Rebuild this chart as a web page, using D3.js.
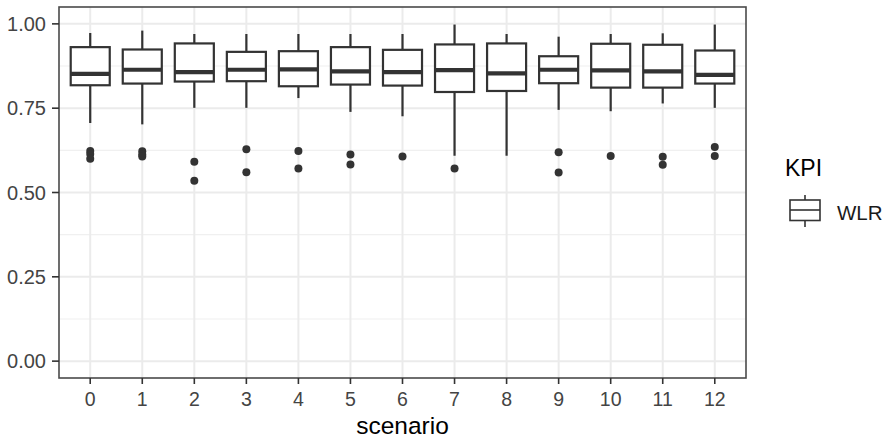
<!DOCTYPE html>
<html>
<head>
<meta charset="utf-8">
<script src="https://cdn.jsdelivr.net/npm/d3@7"></script>
<style>
  body { margin: 0; background: #fff; }
  svg { font-family: "Liberation Sans", Arial, sans-serif; }
</style>
</head>
<body>
<svg id="chart" width="890" height="440"></svg>
<script>
// values
scenarios = ["0","1","2","3","4","5","6","7","8","9","10","11","12"];
whiskerHigh = [0.973, 0.980, 0.970, 0.970, 0.970, 0.970, 0.970, 0.998, 0.970, 0.962, 0.970, 0.972, 0.998];
q3          = [0.931, 0.924, 0.942, 0.917, 0.919, 0.931, 0.923, 0.939, 0.942, 0.904, 0.941, 0.938, 0.921];
medians     = [0.852, 0.864, 0.857, 0.864, 0.865, 0.859, 0.857, 0.863, 0.853, 0.864, 0.862, 0.859, 0.849];
q1          = [0.818, 0.823, 0.829, 0.830, 0.815, 0.820, 0.817, 0.798, 0.801, 0.824, 0.811, 0.811, 0.823];
whiskerLow  = [0.706, 0.702, 0.751, 0.751, 0.780, 0.739, 0.726, 0.609, 0.609, 0.745, 0.741, 0.764, 0.751];
outliers = [
    [0.623, 0.614, 0.600],
    [0.622, 0.613, 0.607],
    [0.591, 0.535],
    [0.628, 0.560],
    [0.623, 0.571],
    [0.613, 0.583],
    [0.607],
    [0.571],
    [],
    [0.619, 0.559],
    [0.608],
    [0.606, 0.582],
    [0.635, 0.608]
];
yTicks = [0, 0.25, 0.5, 0.75, 1];

svg = d3.select("#chart");
panel = {left: 59, right: 746, top: 7, bottom: 378};

// ggplot discrete expansion: 0.6 units each side
x = d3.scalePoint()
        .domain(scenarios)
        .range([panel.left, panel.right])
        .padding(0.6);
xc = d => x(d);
boxW = x.step() * 0.75;

y = d3.scaleLinear()
        .domain([-0.05, 1.05])
        .range([panel.bottom, panel.top]);

grid = svg.append("g");
minorTicks = d3.range(0.125, 1.05, 0.25);
grid.selectAll(".minor")
    .data(minorTicks)
    .join("line")
    .attr("x1", panel.left).attr("x2", panel.right)
    .attr("y1", d => y(d)).attr("y2", d => y(d))
    .attr("stroke", "#f0f0f0")
    .attr("stroke-width", 1.2);
grid.selectAll(".major")
    .data(yTicks)
    .join("line")
    .attr("x1", panel.left).attr("x2", panel.right)
    .attr("y1", d => y(d)).attr("y2", d => y(d))
    .attr("stroke", "#ebebeb")
    .attr("stroke-width", 2);
grid.selectAll(".vmajor")
    .data(scenarios)
    .join("line")
    .attr("x1", d => xc(d)).attr("x2", d => xc(d))
    .attr("y1", panel.top).attr("y2", panel.bottom)
    .attr("stroke", "#ebebeb")
    .attr("stroke-width", 2);

ink = "#333333";
boxes = svg.append("g").selectAll("g")
    .data(scenarios)
    .join("g");

boxes.append("line")
    .attr("x1", d => xc(d)).attr("x2", d => xc(d))
    .attr("y1", (d, i) => y(whiskerHigh[i])).attr("y2", (d, i) => y(q3[i]))
    .attr("stroke", ink).attr("stroke-width", 2.2);
boxes.append("line")
    .attr("x1", d => xc(d)).attr("x2", d => xc(d))
    .attr("y1", (d, i) => y(q1[i])).attr("y2", (d, i) => y(whiskerLow[i]))
    .attr("stroke", ink).attr("stroke-width", 2.2);
boxes.append("rect")
    .attr("x", d => xc(d) - boxW / 2)
    .attr("width", boxW)
    .attr("y", (d, i) => y(q3[i]))
    .attr("height", (d, i) => y(q1[i]) - y(q3[i]))
    .attr("fill", "#fff")
    .attr("stroke", ink).attr("stroke-width", 2.2);
boxes.append("line")
    .attr("x1", d => xc(d) - boxW / 2).attr("x2", d => xc(d) + boxW / 2)
    .attr("y1", (d, i) => y(medians[i])).attr("y2", (d, i) => y(medians[i]))
    .attr("stroke", ink).attr("stroke-width", 4.2);
boxes.selectAll("circle")
    .data((d, i) => outliers[i].map(v => ({s: d, v: v})))
    .join("circle")
    .attr("cx", d => xc(d.s))
    .attr("cy", d => y(d.v))
    .attr("r", 4)
    .attr("fill", ink);

// panel border
svg.append("rect")
    .attr("x", panel.left).attr("y", panel.top)
    .attr("width", panel.right - panel.left)
    .attr("height", panel.bottom - panel.top)
    .attr("fill", "none")
    .attr("stroke", "#4a4a4a")
    .attr("stroke-width", 1.6);

// axes
yAxis = svg.append("g");
yAxis.selectAll("line")
    .data(yTicks)
    .join("line")
    .attr("x1", panel.left - 7).attr("x2", panel.left)
    .attr("y1", d => y(d)).attr("y2", d => y(d))
    .attr("stroke", ink).attr("stroke-width", 1.6);
yAxis.selectAll("text")
    .data(yTicks)
    .join("text")
    .attr("x", panel.left - 13)
    .attr("y", d => y(d))
    .attr("dy", "0.36em")
    .attr("text-anchor", "end")
    .attr("font-size", 20)
    .attr("fill", "#444")
    .text(d => d3.format(".2f")(d));

xAxis = svg.append("g");
xAxis.selectAll("line")
    .data(scenarios)
    .join("line")
    .attr("x1", d => xc(d)).attr("x2", d => xc(d))
    .attr("y1", panel.bottom).attr("y2", panel.bottom + 6)
    .attr("stroke", ink).attr("stroke-width", 1.6);
xAxis.selectAll("text")
    .data(scenarios)
    .join("text")
    .attr("x", d => xc(d))
    .attr("y", 406)
    .attr("text-anchor", "middle")
    .attr("font-size", 19.5)
    .attr("fill", "#444")
    .text(d => d);

svg.append("text")
    .attr("x", (panel.left + panel.right) / 2)
    .attr("y", 434)
    .attr("text-anchor", "middle")
    .attr("font-size", 24.5)
    .attr("fill", "#000")
    .text("scenario");

// legend
legend = svg.append("g");
legend.append("text")
    .attr("x", 785)
    .attr("y", 176)
    .attr("font-size", 23)
    .attr("fill", "#000")
    .text("KPI");
legend.append("line")
    .attr("x1", 805).attr("x2", 805)
    .attr("y1", 195).attr("y2", 227)
    .attr("stroke", ink).attr("stroke-width", 1.6);
legend.append("rect")
    .attr("x", 790).attr("y", 200)
    .attr("width", 30).attr("height", 20.5)
    .attr("fill", "#fff")
    .attr("stroke", ink).attr("stroke-width", 1.6);
legend.append("line")
    .attr("x1", 790).attr("x2", 820)
    .attr("y1", 210).attr("y2", 210)
    .attr("stroke", ink).attr("stroke-width", 1.6);
legend.append("text")
    .attr("x", 837)
    .attr("y", 219.5)
    .attr("font-size", 20.5)
    .attr("fill", "#1a1a1a")
    .text("WLR");
</script>
</body>
</html>
